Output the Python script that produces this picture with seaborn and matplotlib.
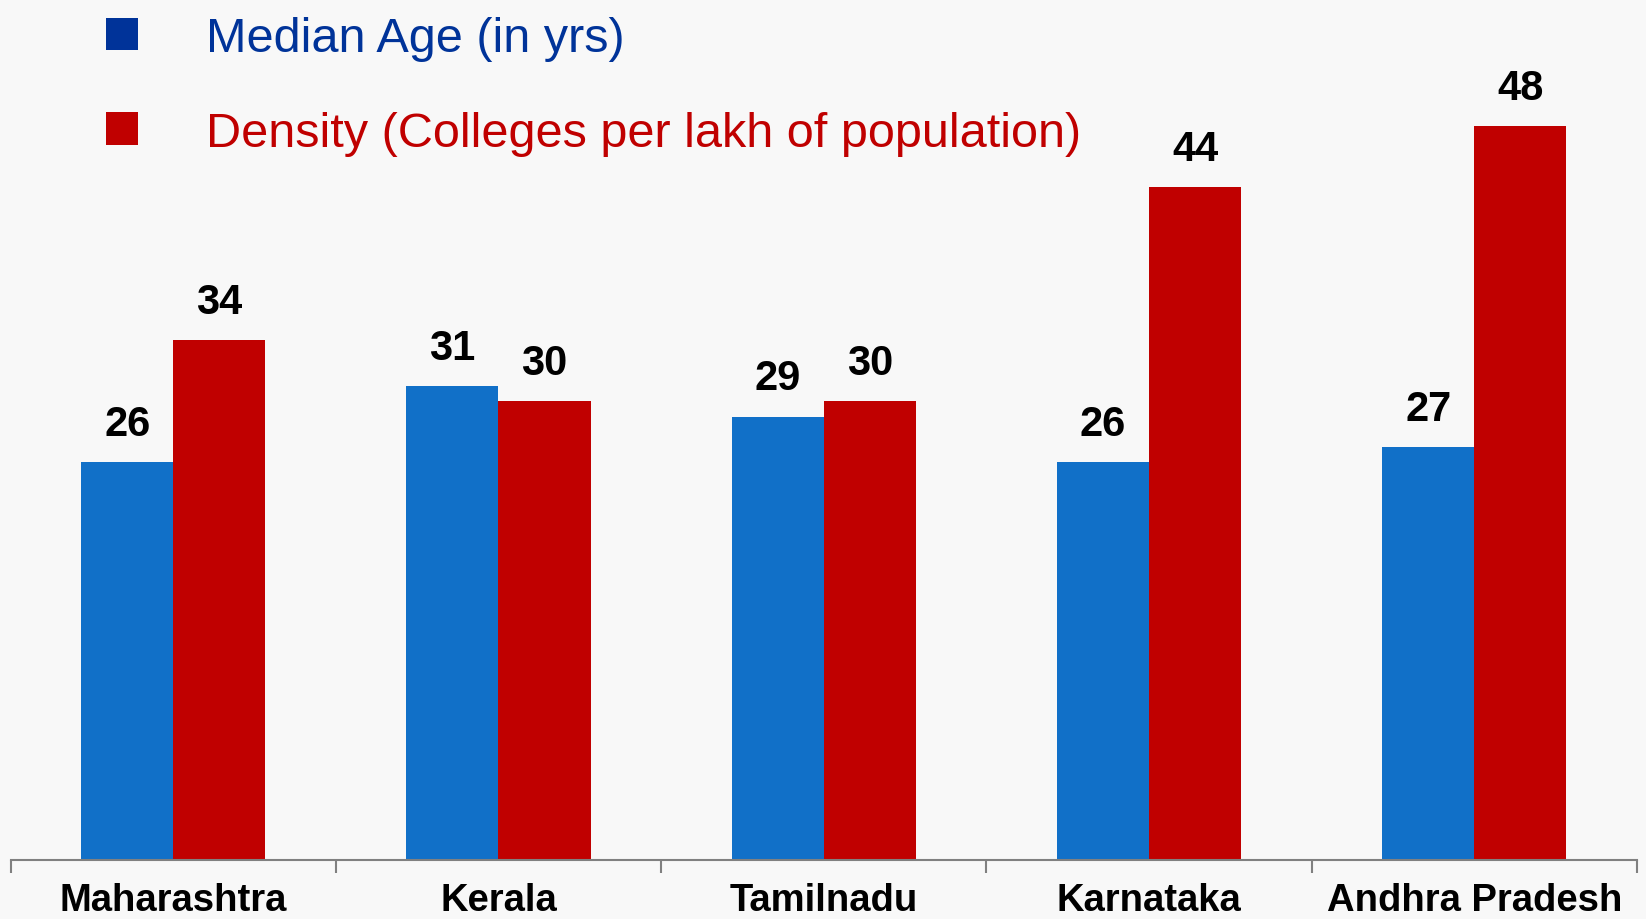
import pandas as pd
import numpy as np
import seaborn as sns
import matplotlib.pyplot as plt
from matplotlib.patches import Patch

states = ["Maharashtra", "Kerala", "Tamilnadu", "Karnataka", "Andhra Pradesh"]
median_age = [26, 31, 29, 26, 27]
density = [34, 30, 30, 44, 48]
series_names = ["Median Age (in yrs)", "Density (Colleges per lakh of population)"]

bar_colors = ["#1170C8", "#C00000"]
legend_colors = ["#003399", "#C00000"]

# long form table for seaborn
df = pd.DataFrame({
    "state": states * 2,
    "series": [series_names[0]] * len(states) + [series_names[1]] * len(states),
    "value": median_age + density,
})

sns.set_theme(style="white")
plt.rcParams["font.family"] = ["Liberation Sans", "DejaVu Sans"]

fig = plt.figure(figsize=(16.46, 9.2), dpi=100)
fig.patch.set_facecolor("#f8f8f8")
ax = fig.add_axes([0.0064, 0.0641, 0.9881, 0.9359])
ax.set_facecolor("none")

sns.barplot(data=df, x="state", y="value", hue="series", order=states,
            hue_order=series_names, palette=bar_colors, width=0.566, gap=0,
            saturation=1, edgecolor="none", linewidth=0, ax=ax, legend=False)

for cont in ax.containers:
    ax.bar_label(cont, padding=13, fontsize=30, fontweight="bold", color="black")

ax.set_xlim(-0.5, len(states) - 0.5)
ax.set_ylim(0, 56.3)
ax.set_xlabel("")
ax.set_ylabel("")
ax.set_yticks([])

# category labels in the middle, tick marks on the boundaries
ax.set_xticks(range(len(states)))
ax.set_xticklabels(states, fontsize=27.5, fontweight="bold", color="black")
ax.tick_params(axis="x", which="major", length=0, pad=16)
ax.set_xticks(np.arange(-0.5, len(states), 1.0), minor=True)
ax.tick_params(axis="x", which="minor", length=9, width=1.5, color="#808080", bottom=True)

for side in ["left", "top", "right"]:
    ax.spines[side].set_visible(False)
ax.spines["bottom"].set_color("#808080")
ax.spines["bottom"].set_linewidth(1.5)

handles = [Patch(facecolor=c, edgecolor="none") for c in legend_colors]
leg = ax.legend(handles, series_names, loc="upper left", bbox_to_anchor=(0.032, 1.031),
                frameon=False, fontsize=35, handlelength=0.66, handleheight=0.66,
                handletextpad=1.4, labelspacing=1.02, labelcolor=legend_colors)

plt.savefig("out.png", dpi=100, facecolor=fig.get_facecolor())
plt.close()
